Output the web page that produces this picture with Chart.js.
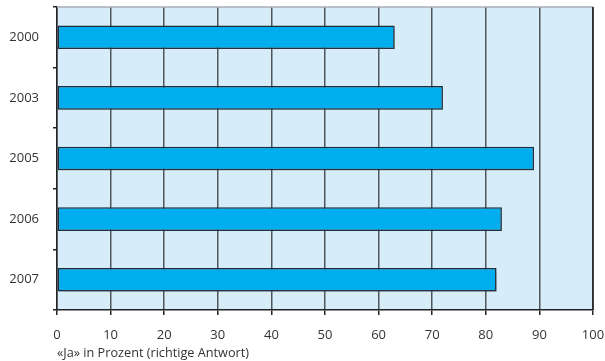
<!DOCTYPE html>
<html>
<head>
<meta charset="utf-8">
<script src="https://cdn.jsdelivr.net/npm/chart.js@4/dist/chart.umd.min.js"></script>
<style>
    html, body { margin: 0; padding: 0; background: #fff; }
    #wrap { width: 605px; height: 361px; }
</style>
</head>
<body>
<div id="wrap"><canvas id="chart" width="605" height="361"></canvas></div>
<script>
// Data
const years = ['2000', '2003', '2005', '2006', '2007'];
const yesPercent = [63, 72, 89, 83, 82];
const xTicks = [0, 10, 20, 30, 40, 50, 60, 70, 80, 90, 100];
const axisTitle = '«Ja» in Prozent (richtige Antwort)';

// Light blue plot background plus the frame lines at top and right
const plotFrame = {
    id: 'plotFrame',
    beforeDraw(chart) {
        const { ctx, chartArea: a } = chart;
        ctx.save();
        ctx.fillStyle = '#d6ecf9';
        ctx.fillRect(a.left, a.top, a.right - a.left, a.bottom - a.top);
        ctx.restore();
    },
    afterDraw(chart) {
        const { ctx, chartArea: a } = chart;
        ctx.save();
        ctx.lineWidth = 1.5;
        ctx.strokeStyle = '#a9aeb3';
        ctx.beginPath();
        ctx.moveTo(a.left, a.top);
        ctx.lineTo(a.right, a.top);
        ctx.stroke();
        ctx.strokeStyle = '#222';
        ctx.beginPath();
        ctx.moveTo(a.right, a.top);
        ctx.lineTo(a.right, a.bottom);
        ctx.stroke();
        ctx.restore();
    }
};

// Soft shadow behind the bars
const barShadow = {
    id: 'barShadow',
    beforeDatasetsDraw(chart) {
        const ctx = chart.ctx;
        ctx.save();
        ctx.shadowColor = 'rgba(60, 60, 60, 0.35)';
        ctx.shadowOffsetX = 1.5;
        ctx.shadowOffsetY = 1.5;
        ctx.shadowBlur = 1;
    },
    afterDatasetsDraw(chart) {
        chart.ctx.restore();
    }
};

const ctx = document.getElementById('chart').getContext('2d');
new Chart(ctx, {
    type: 'bar',
    data: {
        labels: years,
        datasets: [{
            data: yesPercent,
            backgroundColor: '#00adee',
            borderColor: '#1c2d3c',
            borderWidth: 1.5,
            borderSkipped: false,
            categoryPercentage: 1,
            barPercentage: 0.39
        }]
    },
    options: {
        indexAxis: 'y',
        responsive: false,
        animation: false,
        layout: {
            padding: { top: 7, right: 12, left: 0, bottom: 0 }
        },
        plugins: {
            legend: { display: false },
            tooltip: { enabled: false }
        },
        scales: {
            x: {
                min: 0,
                max: 100,
                afterBuildTicks(scale) {
                    scale.ticks = xTicks.map(v => ({ value: v }));
                },
                afterFit(scale) {
                    scale.height = 51;
                    scale.paddingLeft = 0;
                    scale.paddingRight = 0;
                },
                border: { color: '#222', width: 1.5 },
                grid: {
                    color: '#50565c',
                    lineWidth: 1.5,
                    tickLength: 5,
                    tickColor: '#222'
                },
                ticks: {
                    padding: 12,
                    color: '#333',
                    font: { family: 'Open Sans', size: 13 },
                    maxRotation: 0
                },
                title: {
                    display: true,
                    text: axisTitle,
                    align: 'start',
                    color: '#333',
                    font: { family: 'Open Sans', size: 12.7 },
                    padding: { top: 0, bottom: 0 }
                }
            },
            y: {
                afterFit(scale) {
                    scale.width = 57;
                    scale.paddingTop = 0;
                    scale.paddingBottom = 0;
                },
                border: { color: '#222', width: 1.5 },
                grid: {
                    offset: true,
                    drawOnChartArea: false,
                    tickLength: 4,
                    tickColor: '#222',
                    lineWidth: 1.5
                },
                ticks: {
                    padding: 14,
                    color: '#333',
                    font: { family: 'Open Sans', size: 13 }
                }
            }
        }
    },
    plugins: [plotFrame, barShadow]
});
</script>
</body>
</html>
